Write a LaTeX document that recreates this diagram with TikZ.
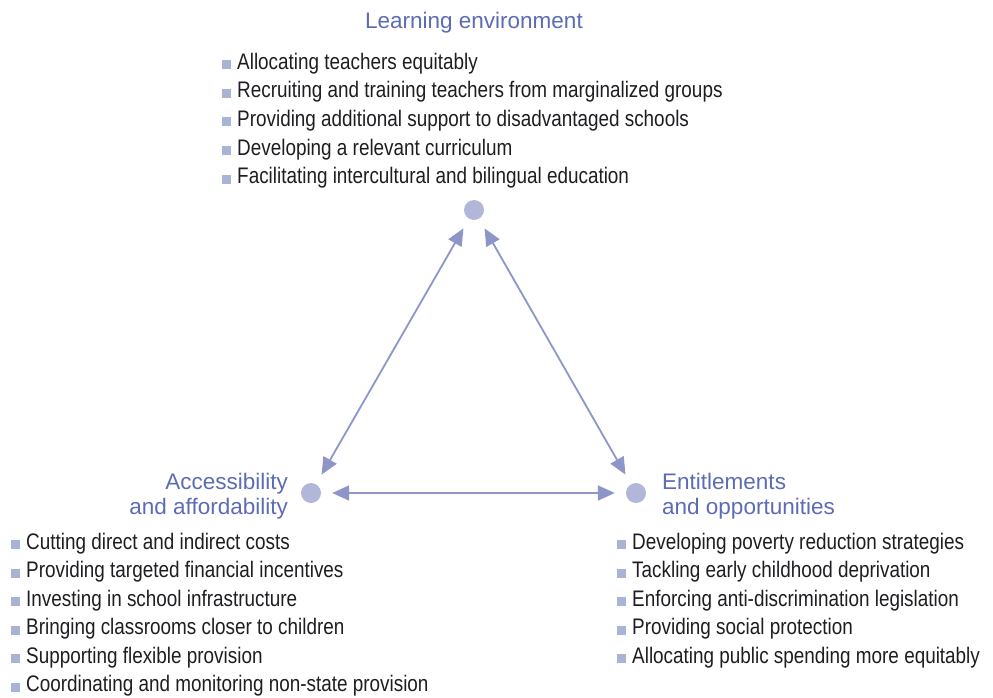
\documentclass[tikz,border=0pt]{standalone}
\usepackage{fontspec}
\setmainfont{Liberation Sans}
\newfontfamily\listfont[FakeStretch=0.84]{Liberation Sans}
\usetikzlibrary{arrows.meta}
\definecolor{headblue}{HTML}{5D6CB2}
\definecolor{dotgray}{HTML}{B2B7DA}
\definecolor{arrowblue}{HTML}{8E95C8}
\definecolor{bulletblue}{HTML}{A8B3D6}
\definecolor{textgray}{HTML}{1E1E22}
\newcommand{\sq}{{\color{bulletblue}\rule{9pt}{9pt}}\hspace{6pt}}

\begin{document}
\begin{tikzpicture}[x=1pt,y=-1pt]
    \tikzstyle{blk} = [draw, arrowblue, line width=1.8pt, {Triangle[length=17pt,width=15pt]}-{Triangle[length=17pt,width=15pt]}, shorten <=11pt, shorten >=11pt]
    \tikzstyle{dot} = [circle, fill=dotgray, minimum size=20pt, inner sep=0pt]
    \tikzstyle{head} = [font=\fontsize{22.5}{27}\selectfont, text=headblue, inner sep=0pt]
    \tikzstyle{item} = [font=\listfont\fontsize{22.5}{26}\selectfont, text=textgray, anchor=base west, inner sep=0pt]

    \useasboundingbox (0,0) rectangle (993,698);

    % learning environment
    \node[head, anchor=base] (learning) at (474, 29) {Learning environment};
    \node[item] (alloc) at (222, 69.5) {\sq Allocating teachers equitably};
    \node[item] (recruit) at (222, 98) {\sq Recruiting and training teachers from marginalized groups};
    \node[item] (support) at (222, 126.5) {\sq Providing additional support to disadvantaged schools};
    \node[item] (curric) at (222, 155) {\sq Developing a relevant curriculum};
    \node[item] (intercult) at (222, 183.5) {\sq Facilitating intercultural and bilingual education};

    % accessibility
    \node[head, anchor=base east] (access) at (288, 489) {Accessibility};
    \node[head, anchor=base east] (afford) at (288, 514) {and affordability};
    \node[item] (costs) at (11, 549) {\sq Cutting direct and indirect costs};
    \node[item] (incent) at (11, 577.5) {\sq Providing targeted financial incentives};
    \node[item] (infra) at (11, 606) {\sq Investing in school infrastructure};
    \node[item] (closer) at (11, 634.5) {\sq Bringing classrooms closer to children};
    \node[item] (flex) at (11, 663) {\sq Supporting flexible provision};
    \node[item] (nonstate) at (11, 691.5) {\sq Coordinating and monitoring non-state provision};

    % entitlements
    \node[head, anchor=base west] (entitle) at (662, 489) {Entitlements};
    \node[head, anchor=base west] (opport) at (662, 514) {and opportunities};
    \node[item] (poverty) at (617, 549) {\sq Developing poverty reduction strategies};
    \node[item] (early) at (617, 577.5) {\sq Tackling early childhood deprivation};
    \node[item] (antidisc) at (617, 606) {\sq Enforcing anti-discrimination legislation};
    \node[item] (social) at (617, 634.5) {\sq Providing social protection};
    \node[item] (spend) at (617, 663) {\sq Allocating public spending more equitably};

    % triangle
    \node[dot] (top) at (474, 210) {};
    \node[dot] (left) at (311, 493) {};
    \node[dot] (right) at (636, 493) {};

    \path[blk] (top) to (left);
    \path[blk] (top) to (right);
    \path[blk] (left) to (right);
\end{tikzpicture}
\end{document}
